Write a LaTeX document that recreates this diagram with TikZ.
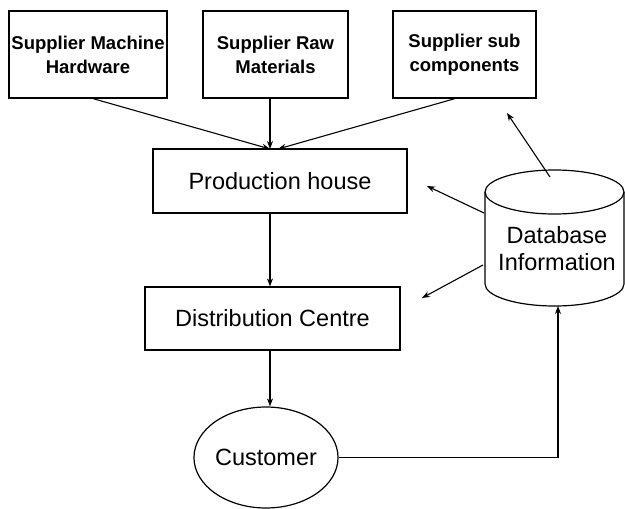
\documentclass[tikz,border=0pt]{standalone}
\usepackage{fontspec}
\setmainfont{Liberation Sans}
\usetikzlibrary{arrows.meta,shapes.geometric,calc}
\begin{document}
\begin{tikzpicture}[x=1pt,y=1pt,
  every path/.style={line width=1.2pt},
  topbox/.style={draw, rectangle, minimum height=87pt, inner sep=0pt, align=center,
     font=\fontsize{18.5}{24}\selectfont\bfseries},
  midbox/.style={draw, rectangle, minimum height=64pt, inner sep=0pt,
     font=\fontsize{23.5}{27}\selectfont},
  arr/.style={-{Stealth[length=8pt,width=6pt]}, line width=1.1pt}
]
\useasboundingbox (0,0) rectangle (625,-509);
% supplier boxes
\node[topbox, minimum width=158pt] (s1) at (88,-54.5) {Supplier Machine\\Hardware};
\node[topbox, minimum width=145pt] (s2) at (275.5,-54.5) {Supplier Raw\\Materials};
\node[topbox, minimum width=143pt] (s3) at (464.5,-54.5) {Supplier sub\\components};
% production and distribution
\node[midbox, minimum width=254pt] (prod) at (280,-181) {Production house};
\node[midbox, minimum width=255pt, minimum height=63pt] (dist) at (272.5,-318.5) {Distribution Centre};
% customer
\node[draw, ellipse, minimum width=138pt, minimum height=101pt, inner sep=0pt,
      font=\fontsize{23.5}{27}\selectfont] (cust) at (266,-457.5) {Customer};
% database cylinder
\draw (485,-192) -- (485,-284) arc[start angle=180, end angle=360, x radius=69.5, y radius=22] -- (624,-192);
\draw (554.5,-192) ellipse[x radius=69.5, y radius=22];
\node[align=center, font=\fontsize{23.5}{27}\selectfont, inner sep=0pt] (dbtext) at (557,-249) {Database\\Information};
% named points
\coordinate (xline) at (270,0);
\coordinate (pinA) at (270,-149);
\coordinate (pinB) at (278,-149);
\coordinate (dbtop) at (550,-177);
\coordinate (dbl1) at (484,-213);
\coordinate (dbl2) at (483,-265);
\coordinate (dbbot) at (558,-306);
\coordinate (t3) at (507,-113);
\coordinate (tp) at (427,-186);
\coordinate (td) at (422,-298);
% supplier arrows
\draw[arr] ($(s1.south)+(5,0)$) -- (pinA);
\draw[arr] (s2.south -| pinA) -- (pinA);
\draw[arr] ($(s3.south)+(-9.5,0)$) -- (pinB);
% flow arrows
\draw[arr] (xline |- prod.south) -- (xline |- dist.north);
\draw[arr] (xline |- dist.south) -- (xline |- cust.north);
% database arrows
\draw[arr] (dbtop) -- (t3);
\draw[arr] (dbl1) -- (tp);
\draw[arr] (dbl2) -- (td);
\draw[arr] (cust.east) -| (dbbot);
\end{tikzpicture}
\end{document}
